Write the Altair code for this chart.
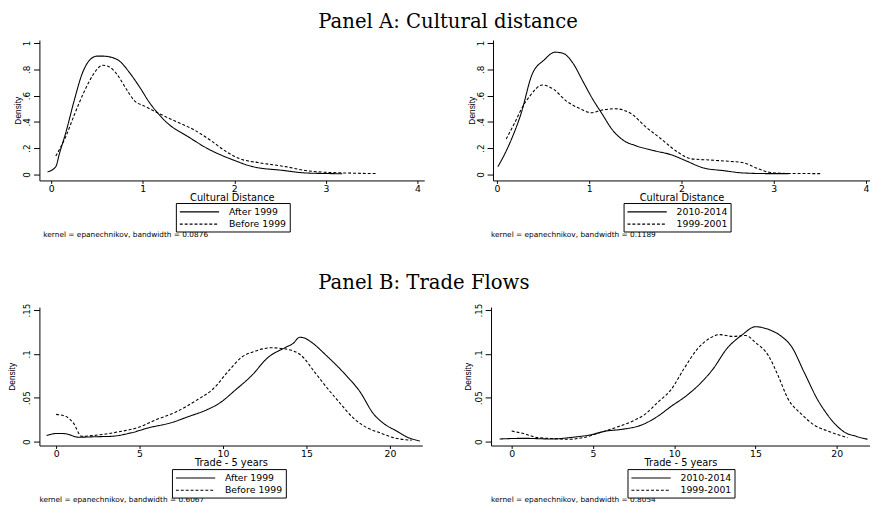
import altair as alt
import pandas as pd

# ---------------- data ----------------
# Panel A, left: Cultural distance
tl_names = ["After 1999", "Before 1999"]
tl_after_x = [-0.04, 0.05, 0.09, 0.16, 0.25, 0.34, 0.42, 0.5, 0.56, 0.63, 0.75, 0.86, 0.97, 1.07, 1.16, 1.27, 1.49, 1.70, 1.99, 2.2, 2.52, 2.78, 3.06, 3.18]
tl_after_y = [0.02, 0.06, 0.16, 0.32, 0.56, 0.77, 0.87, 0.9, 0.9, 0.895, 0.86, 0.77, 0.66, 0.55, 0.47, 0.39, 0.29, 0.2, 0.11, 0.06, 0.032, 0.012, 0.007, 0.006]
tl_before_x = [0.05, 0.16, 0.25, 0.36, 0.45, 0.56, 0.63, 0.72, 0.82, 0.91, 1.02, 1.16, 1.34, 1.56, 1.74, 1.92, 2.06, 2.27, 2.56, 2.78, 2.99, 3.2, 3.56]
tl_before_y = [0.14, 0.29, 0.45, 0.63, 0.75, 0.83, 0.82, 0.76, 0.65, 0.56, 0.52, 0.47, 0.41, 0.34, 0.26, 0.17, 0.12, 0.09, 0.06, 0.03, 0.017, 0.012, 0.007]

# Panel A, right
tr_names = ["2010-2014", "1999-2001"]
tr_new_x = [0.01, 0.08, 0.17, 0.26, 0.38, 0.51, 0.63, 0.72, 0.82, 0.93, 1.04, 1.14, 1.25, 1.37, 1.5, 1.71, 1.89, 2.03, 2.24, 2.45, 2.67, 2.95, 3.16]
tr_new_y = [0.06, 0.15, 0.29, 0.46, 0.76, 0.87, 0.93, 0.92, 0.85, 0.71, 0.57, 0.46, 0.34, 0.26, 0.22, 0.18, 0.15, 0.11, 0.05, 0.03, 0.012, 0.007, 0.007]
tr_old_x = [0.1, 0.19, 0.29, 0.36, 0.49, 0.61, 0.75, 0.9, 1.02, 1.14, 1.28, 1.46, 1.6, 1.78, 1.96, 2.1, 2.31, 2.52, 2.67, 2.81, 2.95, 3.16, 3.52]
tr_old_y = [0.27, 0.39, 0.53, 0.6, 0.68, 0.65, 0.56, 0.5, 0.47, 0.49, 0.5, 0.46, 0.37, 0.27, 0.17, 0.12, 0.11, 0.1, 0.09, 0.05, 0.017, 0.008, 0.007]

# Panel B, left: Trade flows
bl_after_x = [-0.57, 0.06, 0.55, 1.33, 2.5, 3.3, 4.5, 5.6, 6.8, 8, 9, 9.8, 10.75, 11.7, 12.7, 13.7, 14.2, 14.6, 14.9, 15.25, 16.2, 17.4, 18.2, 19, 19.6, 20.4, 21.1, 21.8]
bl_after_y = [0.007, 0.0093, 0.009, 0.005, 0.0056, 0.006, 0.01, 0.016, 0.021, 0.029, 0.036, 0.044, 0.059, 0.075, 0.096, 0.107, 0.112, 0.119, 0.118, 0.114, 0.098, 0.075, 0.057, 0.032, 0.021, 0.012, 0.0045, 0.0007]
bl_before_x = [0, 0.55, 1.04, 1.53, 2.5, 3.7, 4.9, 6, 7.2, 8.4, 9.4, 10.35, 11.1, 11.9, 12.9, 13.9, 14.7, 15.5, 16.2, 17, 17.8, 18.6, 19.4, 20.2, 21.3]
bl_before_y = [0.031, 0.029, 0.021, 0.006, 0.0075, 0.011, 0.016, 0.025, 0.034, 0.047, 0.06, 0.081, 0.096, 0.103, 0.107, 0.105, 0.098, 0.079, 0.062, 0.044, 0.027, 0.016, 0.01, 0.0045, 0.0015]

# Panel B, right
br_new_x = [-0.74, 0.76, 2.4, 3.8, 4.8, 5.8, 6.8, 8, 9, 9.8, 10.8, 11.8, 12.4, 13.2, 14.2, 15, 15.8, 16.6, 17.2, 18, 18.85, 19.3, 19.9, 20.46, 21.2, 21.9]
br_new_y = [0.003, 0.0037, 0.003, 0.005, 0.0075, 0.012, 0.014, 0.019, 0.029, 0.04, 0.053, 0.07, 0.083, 0.105, 0.122, 0.131, 0.128, 0.12, 0.109, 0.079, 0.047, 0.034, 0.02, 0.011, 0.006, 0.0026]
br_old_x = [0, 0.76, 1.6, 2.6, 3.4, 4.4, 5.4, 6.4, 7.4, 8.2, 9, 9.8, 10.6, 11.4, 12.2, 12.8, 13.6, 14.4, 15, 15.8, 16.4, 17, 17.85, 18.6, 19.45, 20.06, 20.66]
br_old_y = [0.012, 0.009, 0.0045, 0.0034, 0.0026, 0.0045, 0.01, 0.016, 0.023, 0.031, 0.045, 0.059, 0.083, 0.105, 0.118, 0.122, 0.12, 0.121, 0.113, 0.098, 0.075, 0.049, 0.031, 0.019, 0.012, 0.008, 0.0045]

cult_ticks = [0, 1, 2, 3, 4]
cult_yticks = [0, 0.2, 0.4, 0.6, 0.8, 1]
trade_ticks = [0, 5, 10, 15, 20]
trade_yticks = [0, 0.05, 0.1, 0.15]

notes = ["kernel = epanechnikov, bandwidth = 0.0876",
         "kernel = epanechnikov, bandwidth = 0.1189",
         "kernel = epanechnikov, bandwidth = 0.6067",
         "kernel = epanechnikov, bandwidth = 0.8054"]

SANS = "DejaVu Sans"
SERIF = "DejaVu Serif"


def make_df(series):
    rows = []
    for name, xs, ys in series:
        for i, (x, y) in enumerate(zip(xs, ys)):
            rows.append({"series": name, "x": x, "y": y, "order": i})
    return pd.DataFrame(rows)


def panel(df, names, xdom, ydom, xticks, yticks, xtitle, w, h, note,
          lx, ly, nx, ny, ytpad):
    lines = alt.Chart(df).mark_line(
        color="black", strokeWidth=1.1, interpolate="monotone", clip=True
    ).encode(
        x=alt.X("x:Q", scale=alt.Scale(domain=xdom, nice=False, zero=False),
                axis=alt.Axis(values=xticks, title=xtitle, grid=False,
                              tickSize=3, labelPadding=0, titlePadding=0,
                              labelFont=SANS, labelFontSize=9.5,
                              titleFont=SANS, titleFontSize=10,
                              titleFontWeight="normal", labelFlush=False,
                              domainColor="black", tickColor="black",
                              labelColor="black", titleColor="black")),
        y=alt.Y("y:Q", scale=alt.Scale(domain=ydom, nice=False, zero=False),
                axis=alt.Axis(values=yticks, title="Density", grid=False,
                              format="~g",
                              labelExpr="replace(datum.label, '0.', '.')",
                              labelAngle=270, labelAlign="center",
                              labelBaseline="bottom", tickSize=6,
                              labelPadding=2, titlePadding=ytpad,
                              labelFont=SANS, labelFontSize=9,
                              titleFont="Liberation Sans", titleFontSize=8.5,
                              titleFontWeight="normal", labelFlush=False,
                              domainColor="black", tickColor="black",
                              labelColor="black", titleColor="black")),
        strokeDash=alt.StrokeDash(
            "series:N",
            scale=alt.Scale(domain=names, range=[[1, 0], [3, 2]]),
            legend=alt.Legend(orient="none", legendX=lx, legendY=ly,
                              direction="vertical", title=None,
                              strokeColor="black", fillColor="white",
                              padding=3, symbolType="M-1,0H7",
                              symbolSize=100, symbolStrokeWidth=1.1,
                              symbolStrokeColor="black",
                              symbolFillColor="transparent",
                              labelOffset=39, labelFont=SANS,
                              labelFontSize=9.5, labelColor="black",
                              rowPadding=1.5, cornerRadius=0)),
        order="order:Q",
    )
    txt = alt.Chart(pd.DataFrame({"t": [note]})).mark_text(
        align="left", baseline="middle", font=SANS, fontSize=7.5, color="black"
    ).encode(text="t:N", x=alt.value(nx), y=alt.value(ny))
    return alt.layer(lines, txt).properties(width=w, height=h)


df_tl = make_df([(tl_names[0], tl_after_x, tl_after_y), (tl_names[1], tl_before_x, tl_before_y)])
df_tr = make_df([(tr_names[0], tr_new_x, tr_new_y), (tr_names[1], tr_old_x, tr_old_y)])
df_bl = make_df([(tl_names[0], bl_after_x, bl_after_y), (tl_names[1], bl_before_x, bl_before_y)])
df_br = make_df([(tr_names[0], br_new_x, br_new_y), (tr_names[1], br_old_x, br_old_y)])

tl = panel(df_tl, tl_names, [-0.129, 4.075], [-0.045, 1.022], cult_ticks, cult_yticks,
           "Cultural Distance", 392, 143, notes[0], 139, 166, 4, 199, 0)
tr = panel(df_tr, tr_names, [-0.043, 4.043], [-0.045, 1.022], cult_ticks, cult_yticks,
           "Cultural Distance", 384, 143, notes[1], 133, 166, -2, 199, 0)
bl = panel(df_bl, tl_names, [-1.0, 21.94], [-0.0045, 0.1534], trade_ticks, trade_yticks,
           "Trade - 5 years", 390, 141, notes[2], 135, 165, 0, 197, 6)
br = panel(df_br, tr_names, [-1.269, 22.05], [-0.0045, 0.1534], trade_ticks, trade_yticks,
           "Trade - 5 years", 386, 141, notes[3], 139, 165, 0, 197, 2)

rowA = alt.hconcat(tl, tr, spacing=43).resolve_scale(strokeDash="independent").properties(
    title=alt.Title("Panel A: Cultural distance", font=SERIF, fontSize=20,
                    fontWeight="normal", anchor="start", dx=310, offset=8,
                    color="black"))
rowB = alt.hconcat(bl, br, spacing=42).resolve_scale(strokeDash="independent").properties(
    title=alt.Title("Panel B: Trade Flows", font=SERIF, fontSize=20,
                    fontWeight="normal", anchor="start", dx=316, offset=10,
                    color="black"))

chart = alt.vconcat(rowA, rowB, spacing=34).resolve_scale(strokeDash="independent").properties(
    padding=0, background="white"
).configure_view(stroke=None)

chart.save("out.html", embed_options={"renderer": "svg", "actions": False})
